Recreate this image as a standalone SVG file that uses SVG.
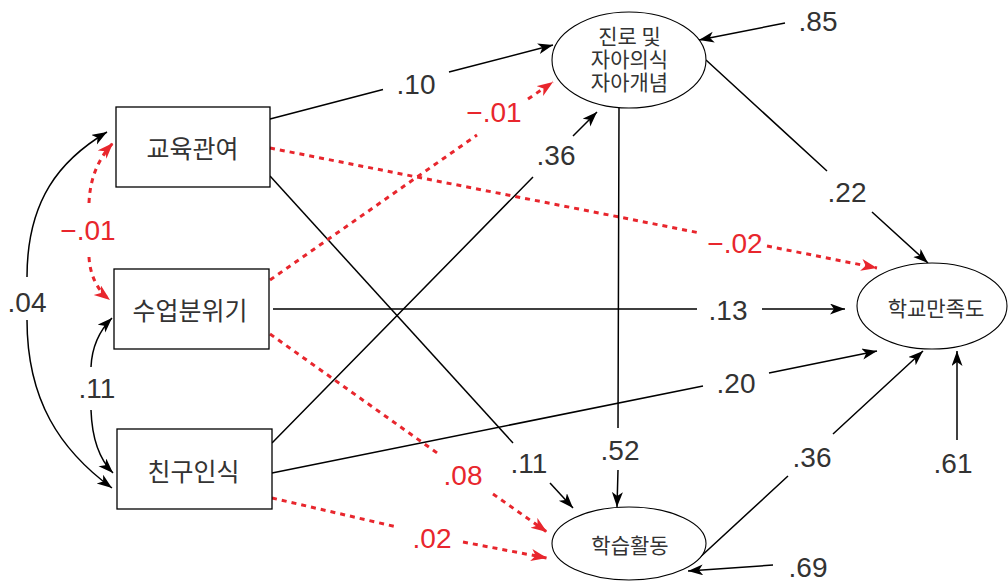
<svg xmlns="http://www.w3.org/2000/svg" width="1008" height="585" viewBox="0 0 1008 585">
<style>
.bg{fill:#fff}
.box{fill:#fff;stroke:#000;stroke-width:1.3}
.ell{fill:#fff;stroke:#000;stroke-width:1.1}
.k{font-family:"Noto Sans CJK KR","Noto Sans",sans-serif;fill:#333;text-anchor:middle}
.kb{font-size:25px}
.ke{font-size:21px}
.n{font-family:"Liberation Sans",Arial,sans-serif;font-size:28px;fill:#333;text-anchor:middle}
.nr{fill:#e8262d}
.c{fill:none;stroke:#000;stroke-width:1.5}
.ca{marker-end:url(#ah)}
.r{fill:none;stroke:#e8262d;stroke-width:3;stroke-dasharray:5 5;marker-end:url(#ahr)}
</style>
<defs>
<marker id="ah" markerUnits="userSpaceOnUse" markerWidth="16" markerHeight="12" refX="15" refY="5.5" orient="auto">
<path d="M0,0 L15,5.5 L0,11 L4,5.5 Z" fill="#000"/>
</marker>
<marker id="ahr" markerUnits="userSpaceOnUse" markerWidth="17" markerHeight="13" refX="16" refY="6" orient="auto">
<path d="M0,0 L16,6 L0,12 L4.5,6 Z" fill="#e8262d"/>
</marker>
</defs>
<rect class="bg" x="0" y="0" width="1008" height="585"/>
<g id="connectors">
<path class="c ca" d="M27,277 C27,200 60,160 107,132"/>
<path class="c ca" d="M27,320 C27,400 60,450 112,488"/>
<path class="r" d="M89,203 C90,180 97,160 113,143"/>
<path class="r" d="M89,257 C90,275 97,290 110,300"/>
<path class="c ca" d="M91,367 C92,345 100,330 112,318"/>
<path class="c ca" d="M91,410 C92,440 100,460 113,473"/>
<path class="c ca" d="M270,119 L383,89.5 M449,72 L553,45"/>
<path class="r" d="M270,148 L700,233 M767,246 L877,268"/>
<path class="c" d="M270,176 L513,443"/>
<path class="c ca" d="M550,483 L573,508"/>
<path class="r" d="M270,280 L477,135 M528,99 L553,82"/>
<path class="c ca" d="M273,309 L697,309 M762,309 L845,309"/>
<path class="r" d="M270,334 L440,455 M493,494 L547,532"/>
<path class="c ca" d="M272,443 L533,177 M573,136 L597,112"/>
<path class="c ca" d="M272,473 L703,386 M769,373 L877,351"/>
<path class="r" d="M272,498 L397,527 M463,542 L547,558"/>
<path class="c ca" d="M706,60 L827,171 M872,212 L928,263"/>
<path class="c ca" d="M619,108 L618,428 M618,470 L617,507"/>
<path class="c ca" d="M697,560 L788,476 M833,434 L923,351"/>
<path class="c ca" d="M785,23 L699,40"/>
<path class="c ca" d="M957,440 L957,351"/>
<path class="c ca" d="M773,565 L688,571"/>
</g>
<g id="labels">
<text class="n" x="27" y="312">.04</text>
<text class="n nr" x="88" y="240">−.01</text>
<text class="n" x="97" y="398">.11</text>
<text class="n" x="416" y="94">.10</text>
<text class="n nr" x="735" y="253">−.02</text>
<text class="n" x="529" y="473">.11</text>
<text class="n nr" x="494" y="122">−.01</text>
<text class="n" x="728" y="320">.13</text>
<text class="n nr" x="463" y="485">.08</text>
<text class="n" x="556" y="165">.36</text>
<text class="n" x="736" y="393">.20</text>
<text class="n nr" x="432" y="548">.02</text>
<text class="n" x="847" y="202">.22</text>
<text class="n" x="620" y="460">.52</text>
<text class="n" x="812" y="467">.36</text>
<text class="n" x="818" y="31">.85</text>
<text class="n" x="953" y="473">.61</text>
<text class="n" x="808" y="577">.69</text>
</g>
<g id="node-edu">
<rect class="box" x="116" y="107" width="154" height="80"/>
<text class="k kb" x="192.5" y="158">교육관여</text>
</g>
<g id="node-class">
<rect class="box" x="114" y="269" width="155" height="80"/>
<text class="k kb" x="190" y="320">수업분위기</text>
</g>
<g id="node-friend">
<rect class="box" x="117" y="429" width="155" height="80"/>
<text class="k kb" x="193.5" y="481">친구인식</text>
</g>
<g id="node-self">
<ellipse class="ell" cx="629" cy="60" rx="77" ry="48"/>
<text class="k ke" x="629.5" y="44">진로 및</text>
<text class="k ke" x="629.5" y="67">자아의식</text>
<text class="k ke" x="629.5" y="90">자아개념</text>
</g>
<g id="node-satisfaction">
<ellipse class="ell" cx="932" cy="306" rx="75" ry="43"/>
<text class="k ke" x="936" y="316">학교만족도</text>
</g>
<g id="node-learning">
<ellipse class="ell" cx="629" cy="543.5" rx="77" ry="36.5"/>
<text class="k ke" x="630" y="553">학습활동</text>
</g>
</svg>
